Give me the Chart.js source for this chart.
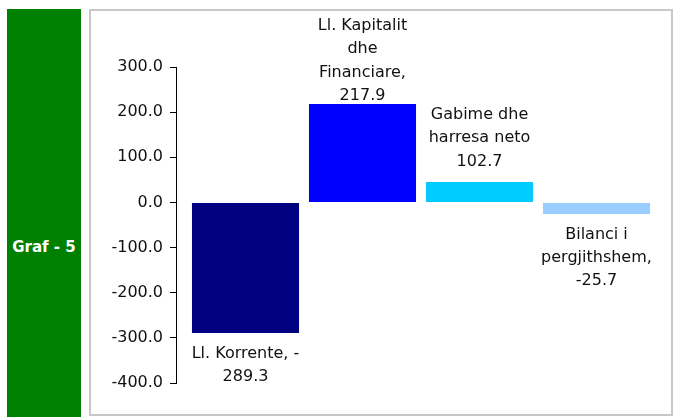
<!DOCTYPE html>
<html lang="sq">
<head>
<meta charset="UTF-8">
<title>Graf - 5</title>
<style>
  body { margin: 0; width: 678px; height: 417px; position: relative; background: #fff; overflow: hidden; font-family: "DejaVu Sans", sans-serif; }
  .side { position: absolute; left: 7px; top: 9px; width: 74px; height: 408px; background: #008000; }
  .side span { position: absolute; left: 0; width: 100%; top: 229px; line-height: 18px; text-align: center; color: #fff; font-weight: bold; font-size: 15px; }
  .box { position: absolute; left: 89px; top: 9px; width: 580px; height: 403px; border: 2px solid #c8c8c8; }
  canvas { position: absolute; left: 0; top: 0; }
</style>
</head>
<body>
<div class="side"><span>Graf - 5</span></div>
<div class="box"></div>
<canvas id="chart" width="678" height="417"></canvas>
<script src="https://cdn.jsdelivr.net/npm/chart.js@4.4.1/dist/chart.umd.min.js"></script>
<script>
const categories = ['Ll. Korrente', 'Ll. Kapitalit dhe Financiare', 'Gabime dhe harresa neto', 'Bilanci i pergjithshem']
// bar heights as drawn in the picture (the third bar is drawn shorter than its label says)
const values = [-289.3, 217.9, 45, -25.7]
const labelLines = [
  ['Ll. Korrente, -', '289.3'],
  ['Ll. Kapitalit', 'dhe', 'Financiare,', '217.9'],
  ['Gabime dhe', 'harresa neto', '102.7'],
  ['Bilanci i', 'pergjithshem,', '-25.7']
]
const colors = ['#000080', '#0000ff', '#00ccff', '#99ccff']
const yMin = -400
const yMax = 300
const yStep = 100

Chart.defaults.font.family = '"DejaVu Sans", sans-serif'
Chart.defaults.font.size = 16
Chart.defaults.color = '#111'

// text next to each bar, outside its end
const barLabels = {
  id: 'barLabels',
  afterDatasetsDraw(chart) {
    const ctx = chart.ctx
    const meta = chart.getDatasetMeta(0)
    const lh = 23.3
    ctx.save()
    ctx.font = '16px "DejaVu Sans", sans-serif'
    ctx.fillStyle = '#111'
    ctx.textAlign = 'center'
    ctx.textBaseline = 'middle'
    meta.data.forEach((bar, i) => {
      const lines = labelLines[i]
      let first
      if (values[i] >= 0) {
        first = bar.y - 20.5 - (lines.length - 1) * lh
        if (first < 26) first = 26
      } else {
        first = bar.y + 20.5
      }
      lines.forEach((t, j) => ctx.fillText(t, bar.x, first + j * lh))
    })
    ctx.restore()
  }
}

new Chart(document.getElementById('chart'), {
  type: 'bar',
  data: {
    datasets: [{
      label: 'Graf - 5',
      data: values.map((v, i) => ({ x: i, y: v })),
      backgroundColor: colors,
      borderWidth: 0,
      categoryPercentage: 1,
      barPercentage: 0.915
    }]
  },
  options: {
    responsive: false,
    animation: false,
    layout: { padding: { left: 90, top: 67, bottom: 34, right: 23 } },
    plugins: { legend: { display: false }, tooltip: { enabled: false } },
    scales: {
      x: {
        type: 'linear',
        display: false,
        offset: false,
        grid: { offset: false },
        min: -0.594,
        max: 3.5,
        ticks: { stepSize: 1, includeBounds: false }
      },
      y: {
        min: yMin,
        max: yMax,
        afterFit(scale) { scale.width = 86 },
        ticks: { stepSize: yStep, padding: 7, color: '#111', callback: v => v.toFixed(1) },
        grid: { drawOnChartArea: false, drawTicks: true, tickLength: 6, color: '#000' },
        border: { display: true, color: '#000', width: 1 }
      }
    }
  },
  plugins: [barLabels]
})
</script>
</body>
</html>
